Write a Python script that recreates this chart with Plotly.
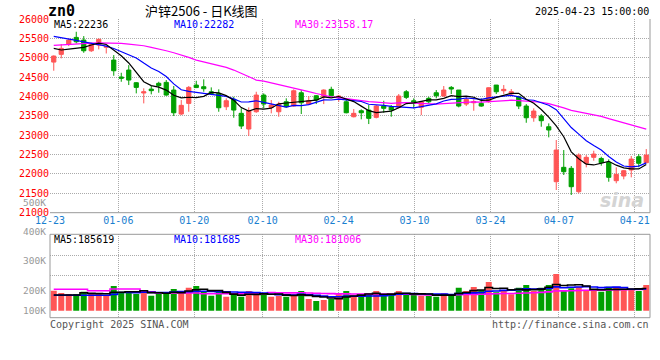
import plotly.graph_objects as go

# ---------------- data ----------------
dates = ["12-23", "12-24", "12-25", "12-26", "12-27", "12-30", "12-31",
         "01-02", "01-03", "01-06", "01-07", "01-08", "01-09", "01-10", "01-13", "01-14",
         "01-15", "01-16", "01-17", "01-20", "01-21", "01-22", "01-23", "01-24", "01-27",
         "02-05", "02-06", "02-07", "02-10", "02-11", "02-12", "02-13", "02-14", "02-17",
         "02-18", "02-19", "02-20", "02-21", "02-24", "02-25", "02-26", "02-27", "02-28",
         "03-03", "03-04", "03-05", "03-06", "03-07", "03-10", "03-11", "03-12", "03-13",
         "03-14", "03-17", "03-18", "03-19", "03-20", "03-21", "03-24", "03-25", "03-26",
         "03-27", "03-28", "03-31",
         "04-01", "04-02", "04-03", "04-07", "04-08", "04-09", "04-10", "04-11", "04-14",
         "04-15", "04-16", "04-17", "04-18", "04-21", "04-22", "04-23"]

open_ = [24888, 25087, 25345, 25525, 25456, 25180, 25327, 25270, 24940, 24504,
         24682, 24355, 24090, 24190, 24340, 24364, 24166, 23547, 23822, 24295,
         24252, 24122, 24080, 23735, 23926, 23565, 23160, 23606, 24037, 23719,
         23606, 23864, 23755, 24096, 23804, 24018, 23993, 24184, 23967, 23864,
         23477, 23632, 23649, 23461, 23753, 23735, 23719, 24122, 23890, 23719,
         23952, 24096, 24011, 24235, 24166, 23804, 23838, 23822, 23864, 24295,
         24148, 24063, 23993, 23753, 23451, 23495, 23219, 21800, 22171, 22145,
         21542, 22275, 22429, 22400, 22300, 21826, 21947, 22102, 22445, 22290]

high = [25060, 25352, 25500, 25670, 25559, 25386, 25500, 25300, 25069, 24612,
        24810, 24370, 24210, 24270, 24380, 24424, 24270, 23908, 24270, 24406,
        24442, 24235, 24184, 23952, 23993, 23694, 23719, 24122, 24080, 23908,
        23864, 23952, 24184, 24166, 24011, 24037, 24184, 24252, 24037, 23908,
        23675, 23668, 23778, 23778, 23890, 23778, 24063, 24166, 23952, 23864,
        23993, 24166, 24270, 24270, 24166, 23993, 23926, 23952, 24235, 24295,
        24295, 24192, 24018, 23804, 23694, 23547, 23306, 22876, 22617, 22205,
        22533, 22488, 22600, 22445, 22378, 22171, 22102, 22463, 22514, 22643]

low = [24665, 24984, 25300, 25370, 25128, 25150, 25216, 25110, 24535, 24380,
       24295, 24080, 23822, 24055, 24096, 24018, 23495, 23520, 23606, 24217,
       24122, 24037, 23606, 23649, 23451, 23160, 22979, 23580, 23694, 23565,
       23477, 23709, 23735, 23547, 23778, 23804, 23804, 23993, 23864, 23565,
       23460, 23410, 23288, 23435, 23580, 23477, 23694, 23934, 23694, 23520,
       23822, 23952, 23993, 24063, 23719, 23753, 23632, 23735, 23838, 24063,
       24063, 24018, 23675, 23322, 23348, 23219, 22945, 21586, 21973, 21457,
       21500, 22171, 22342, 22213, 21800, 21759, 21862, 21913, 22171, 22275]

close = [25043, 25241, 25456, 25412, 25180, 25352, 25474, 25290, 24664, 24470,
         24424, 24235, 24120, 24150, 24280, 24037, 23580, 23771, 24235, 24230,
         24200, 24080, 23709, 23890, 23649, 23237, 23632, 24037, 23804, 23778,
         23804, 23735, 24148, 23838, 23890, 23908, 24166, 24018, 24011, 23580,
         23565, 23580, 23435, 23753, 23694, 23649, 24011, 23977, 23838, 23864,
         23864, 24018, 24166, 24192, 23753, 23926, 23864, 23753, 24225, 24122,
         24184, 24122, 23753, 23451, 23624, 23374, 23134, 22617, 22058, 21671,
         22488, 22429, 22514, 22290, 21913, 21990, 22084, 22385, 22275, 22488]

volume = [177280, 168390, 164530, 164530, 173420, 164530, 163370, 160660, 195440, 173420,
          173420, 164530, 179990, 157960, 171100, 164530, 183850, 172260, 188870, 195440,
          173420, 157960, 173420, 154100, 160660, 154100, 176120, 171100, 163370, 154100,
          157960, 154100, 163370, 176120, 145210, 137480, 141340, 145210, 163370, 176120,
          157960, 157960, 167230, 176120, 157960, 160660, 176120, 167230, 163370, 157960,
          157960, 154100, 167230, 164530, 188870, 176120, 191580, 179990, 210900, 171100,
          179990, 163370, 188870, 199300, 176120, 188870, 199300, 241810, 179990, 186550,
          192740, 176120, 176120, 173420, 192740, 192740, 179990, 179990, 176120, 199300]

# moving-average values at the start of the window (depend on earlier days)
ma5_head = [25240, 25200, 25220, 25250]
ma10_head = [25550, 25520, 25490, 25450, 25410, 25370, 25330, 25300, 25240]
ma30_head = [25319, 25334, 25352, 25360, 25370, 25378, 25386, 25386, 25386, 25370,
             25352, 25334, 25309, 25266, 25231, 25180, 25128, 25076, 25008, 24940,
             24896, 24854, 24803, 24751, 24682, 24596, 24493, 24424, 24398]
vma5_head = [160660, 160660, 160660, 160660]
vma10_head = [159500, 159500, 159500, 159500, 159500, 159500, 159500, 159500, 163000]
vma30_head = [182700, 182700, 182700, 182700, 182700, 177300, 177300, 177300,
              183800, 183800, 183800, 183800, 173400, 173400,
              168400, 168400, 168400, 168400, 168400, 168400,
              165700, 165700, 165700, 165700, 165700, 165700, 165700, 165700, 165700]

tick_labels = ["12-23", "01-06", "01-20", "02-10", "02-24", "03-10", "03-24", "04-07", "04-21"]
price_ticks = [21000, 21500, 22000, 22500, 23000, 23500, 24000, 24500, 25000, 25500, 26000]
vol_tick_labels = ["500K", "400K", "300K", "200K", "100K"]

ma_text = ["MA5:22236", "MA10:22282", "MA30:23158.17"]
vma_text = ["MA5:185619", "MA10:181685", "MA30:181006"]


def moving_average(values, n, head):
    out = list(head)
    for i in range(len(head), len(values)):
        out.append(sum(values[i - n + 1:i + 1]) / n)
    return out


ma5 = moving_average(close, 5, ma5_head)
ma10 = moving_average(close, 10, ma10_head)
ma30 = moving_average(close, 30, ma30_head)
vma5 = moving_average(volume, 5, vma5_head)
vma10 = moving_average(volume, 10, vma10_head)
vma30 = moving_average(volume, 30, vma30_head)

# ---------------- styling / layout ----------------
W, H = 660, 360
RED = "#ff5555"
GREEN = "#00a000"
GRID = "#aaaaaa"
BORDER = "#999999"
MONO = "DejaVu Sans Mono"
N = len(dates)
idx = list(range(N))


def fx(px):
    return px / W


def fy(py):
    return 1 - py / H


# volume panel scale (pixel geometry of the reference)
VOL_BASE = 100000
VOL_PER_PX = 3864
BAR_BOTTOM = 310.7
VP_TOP, VP_BOT = 234.3, 317.7


def vol_at(py):
    return VOL_BASE + (BAR_BOTTOM - py) * VOL_PER_PX


# date gridlines are spread over N-1 steps across the full width
tick_pos = [dates.index(t) * N / (N - 1) - 0.5 for t in tick_labels]

fig = go.Figure()

fig.add_trace(go.Candlestick(
    x=idx, open=open_, high=high, low=low, close=close,
    increasing=dict(line=dict(color=RED, width=1), fillcolor=RED),
    decreasing=dict(line=dict(color=GREEN, width=1), fillcolor=GREEN),
    whiskerwidth=0, xaxis="x", yaxis="y", hoverinfo="skip", showlegend=False))

for series, color, w in [(ma30, "#ff00ff", 1.2), (ma10, "#0000ff", 1.2), (ma5, "#000000", 1.2)]:
    fig.add_trace(go.Scatter(x=idx, y=series, mode="lines", line=dict(color=color, width=w),
                             xaxis="x", yaxis="y", hoverinfo="skip", showlegend=False))

bar_colors = [RED if c >= o else GREEN for o, c in zip(open_, close)]
fig.add_trace(go.Bar(x=idx, y=[v - VOL_BASE for v in volume], base=VOL_BASE,
                     marker=dict(color=bar_colors, line=dict(width=0)), width=0.8,
                     xaxis="x2", yaxis="y2", hoverinfo="skip", showlegend=False))

for series, color in [(vma30, "#ff00ff"), (vma10, "#0000ff"), (vma5, "#000000")]:
    fig.add_trace(go.Scatter(x=idx, y=series, mode="lines",
                             line=dict(color=color, width=1.6, shape="hvh"),
                             xaxis="x2", yaxis="y2", hoverinfo="skip", showlegend=False))

xdom = [fx(50), fx(650)]
grid_common = dict(showgrid=True, gridcolor=GRID, gridwidth=1, griddash="1px,1px",
                   zeroline=False, showline=False, ticks="", fixedrange=True,
                   automargin=False)

fig.update_layout(
    width=W, height=H, margin=dict(l=0, r=0, t=0, b=0, autoexpand=False),
    paper_bgcolor="white", plot_bgcolor="white", showlegend=False,
    boxgap=0.2, bargap=0.2,
    font=dict(family=MONO, size=10, color="#000000"),
    xaxis=dict(domain=xdom, range=[-0.5, N - 0.5], anchor="y",
               tickmode="array", tickvals=tick_pos, ticktext=tick_labels,
               tickfont=dict(family=MONO, size=10, color="#1a80d0"),
               rangeslider=dict(visible=False), **grid_common),
    yaxis=dict(domain=[fy(212.7), fy(19)], range=[price_ticks[0], price_ticks[-1]], anchor="x",
               tickmode="array", tickvals=price_ticks, ticktext=[str(t) for t in price_ticks],
               tickfont=dict(family=MONO, size=10, color="#ff0000"), **grid_common),
    xaxis2=dict(domain=xdom, range=[-0.5, N - 0.5], anchor="y2", matches="x",
                tickmode="array", tickvals=tick_pos, showticklabels=False, **grid_common),
    yaxis2=dict(domain=[fy(VP_BOT), fy(VP_TOP)], range=[vol_at(VP_BOT), vol_at(VP_TOP)],
                anchor="x2", tickmode="array", tickvals=[vol_at(255.7), vol_at(275.7)],
                showticklabels=False, **grid_common),
)

# panel borders
shapes = [
    dict(type="line", xref="x domain", yref="y domain", x0=0, x1=1, y0=0, y1=0,
         line=dict(color=BORDER, width=1)),
    dict(type="line", xref="x domain", yref="y domain", x0=1, x1=1, y0=0, y1=1,
         line=dict(color=BORDER, width=1)),
    dict(type="rect", xref="x2 domain", yref="y2 domain", x0=0, x1=1, y0=0, y1=1,
         line=dict(color=BORDER, width=1)),
]
fig.update_layout(shapes=shapes)

ann = []


def text(x, y, s, color="#000000", size=10, anchor="left", family=MONO):
    ann.append(dict(x=fx(x), y=fy(y), xref="paper", yref="paper", text=s, showarrow=False,
                    xanchor=anchor, yanchor="middle", borderpad=0,
                    font=dict(family=family, size=size, color=color)))


text(47, 10.5, "<b>zn0</b>", size=15)
text(202, 10.5, "沪锌2506 - 日K线图", size=13, anchor="center", family="Noto Sans CJK SC")
text(650, 11.5, "2025-04-23 15:00:00", anchor="right")

for s, x, c in zip(ma_text, [53, 173, 294], ["#000000", "#0000ff", "#ff00ff"]):
    text(x, 24.5, s, color=c)
for s, x, c in zip(vma_text, [53, 173, 294], ["#000000", "#0000ff", "#ff00ff"]):
    text(x, 239.5, s, color=c)

for s, y in zip(vol_tick_labels, [202.5, 231.5, 260.7, 290.7, 310.7]):
    text(47, y, s, color="#999999", anchor="right", size=9.5)

text(49, 324, "Copyright 2025 SINA.COM", color="#555555")
text(650, 324, "http://finance.sina.com.cn", color="#555555", anchor="right")
text(622, 200, "<b><i>sina</i></b>", color="#d4d4d4", size=19, anchor="center", family="DejaVu Sans")

fig.update_layout(annotations=ann)

fig.write_html("out.html", config={"displayModeBar": False},
               post_script="document.body.style.margin='0';document.body.style.padding='0';")
